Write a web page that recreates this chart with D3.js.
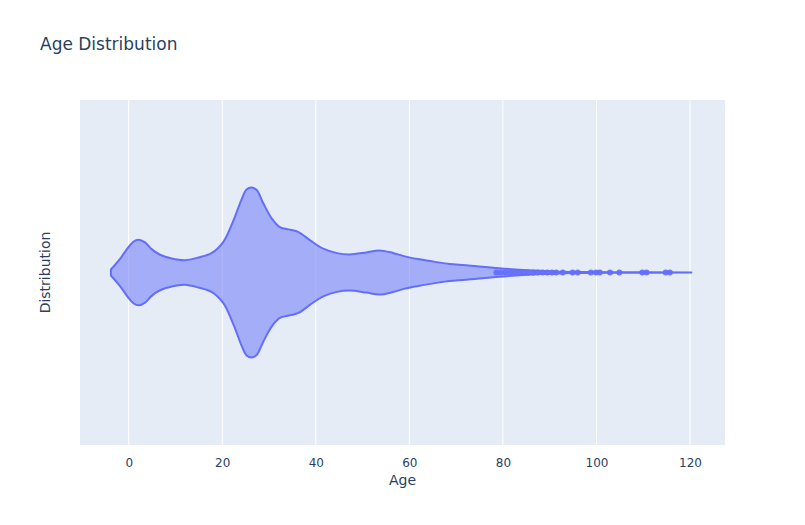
<!DOCTYPE html>
<html>
<head>
<meta charset="utf-8">
<script src="https://cdn.jsdelivr.net/npm/d3@7"></script>
<style>
  body { margin: 0; background: #fff; }
  text { font-family: "DejaVu Sans", verdana, arial, sans-serif; fill: #2a3f5f; }
</style>
</head>
<body>
<svg id="chart" width="805" height="525"></svg>
<script>
// violin outline: age -> relative density (half width, peak = 1)
const ages = [-3.8, -1.9, -0.1, 1.0, 2.1, 3.5, 4.9, 6.7, 9.2, 12.0, 14.9, 17.7, 20.2, 22.4, 24.2, 25.2, 26.3,
  27.4, 28.8, 30.6, 32.3, 34.5, 36.3, 38.8, 41.6, 44.5, 47.2, 50.8, 53.6, 56.5, 59.0, 62.2, 65.5, 68.6, 72.1,
  79.2, 86.3, 90.6, 96.3, 105.0, 120.3];
const density = [0.035, 0.157, 0.295, 0.362, 0.386, 0.354, 0.275, 0.209, 0.165, 0.145, 0.177, 0.228, 0.358,
  0.614, 0.870, 0.976, 1.0, 0.968, 0.811, 0.634, 0.535, 0.504, 0.476, 0.378, 0.280, 0.228, 0.212, 0.236,
  0.26, 0.23, 0.19, 0.155, 0.125, 0.10, 0.085, 0.05, 0.024, 0.012, 0.006, 0.003, 0.0];
// outlier points
const outliers = [78.6, 79.5, 80.5, 81.5, 82.5, 83.5, 84.5, 85.3, 86.5, 87.5, 88.5, 89.5, 90.5, 91.4,
  92.8, 94.9, 96.0, 98.8, 99.9, 100.7, 102.9, 104.9, 109.8, 110.7, 114.8, 115.7];
const xTicks = [0, 20, 40, 60, 80, 100, 120];

const svg = d3.select('#chart');
const margin = {left: 80, top: 100, right: 80, bottom: 80};
const W = 805, H = 525;

const x = d3.scaleLinear().domain([-10.41, 127.48]).range([margin.left, W - margin.right]);
const y = d3.scaleLinear().domain([-2.03, 2.03]).range([H - margin.bottom, margin.top]);

svg.append('rect')
  .attr('x', margin.left).attr('y', margin.top)
  .attr('width', W - margin.left - margin.right)
  .attr('height', H - margin.top - margin.bottom)
  .attr('fill', '#E5ECF6');

// grid
svg.append('g').selectAll('line').data(xTicks).enter().append('line')
  .attr('x1', d => x(d)).attr('x2', d => x(d))
  .attr('y1', margin.top).attr('y2', H - margin.bottom)
  .attr('stroke', '#fff').attr('stroke-width', 1);

// x axis
const xAxis = svg.append('g')
  .attr('transform', `translate(0,${H - margin.bottom})`)
  .call(d3.axisBottom(x).tickValues(xTicks).tickSize(0).tickPadding(13));
xAxis.select('.domain').remove();
xAxis.selectAll('text').attr('font-size', 12).style('fill', '#2a3f5f')
  .attr('font-family', '"DejaVu Sans", verdana, arial, sans-serif');

// violin
const pts = ages.map((a, i) => [a, density[i]]);
const area = d3.area()
  .x(d => x(d[0]))
  .y0(d => y(-d[1]))
  .y1(d => y(d[1]))
  .curve(d3.curveCatmullRom.alpha(0.5));

svg.append('path')
  .datum(pts)
  .attr('d', area)
  .attr('fill', 'rgba(99,110,250,0.5)')
  .attr('stroke', '#636efa')
  .attr('stroke-width', 2)
  .attr('stroke-linejoin', 'round');

svg.append('g').selectAll('circle').data(outliers).enter().append('circle')
  .attr('cx', d => x(d)).attr('cy', y(0)).attr('r', 3)
  .attr('fill', '#636efa').attr('fill-opacity', 0.9);

// titles
svg.append('text').attr('x', 40).attr('y', 50).attr('font-size', 17).text('Age Distribution');
svg.append('text').attr('x', (margin.left + W - margin.right) / 2)
  .attr('y', 485).attr('text-anchor', 'middle').attr('font-size', 14).text('Age');
svg.append('text')
  .attr('transform', `translate(50,${(margin.top + H - margin.bottom) / 2}) rotate(-90)`)
  .attr('text-anchor', 'middle').attr('font-size', 14).text('Distribution');
</script>
</body>
</html>
